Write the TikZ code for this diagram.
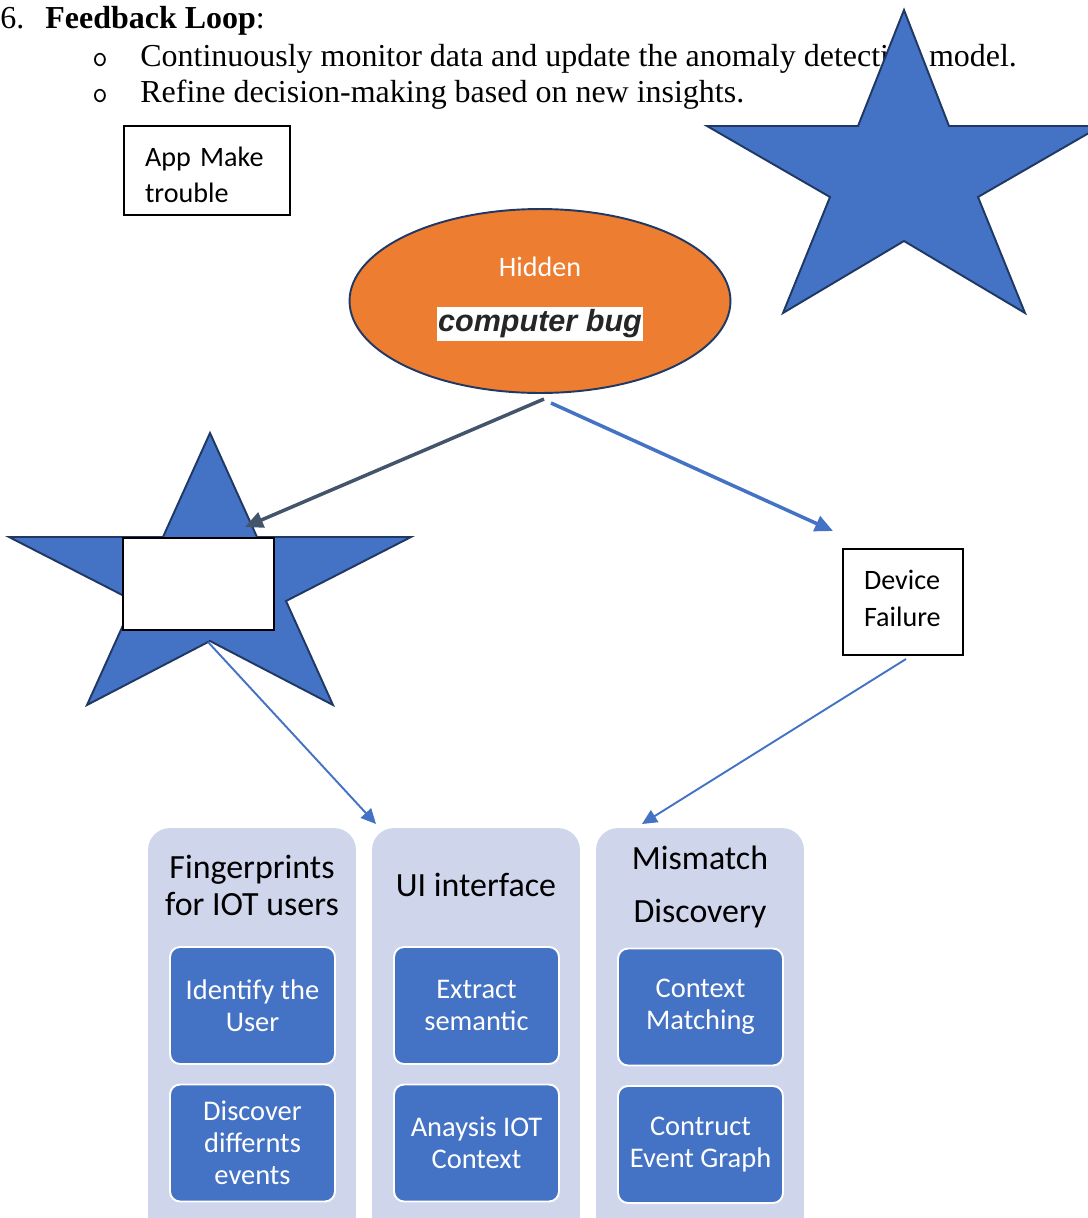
\documentclass[tikz,border=0pt]{standalone}
\usepackage{fontspec}
\setmainfont{Liberation Serif}
\newfontfamily\calfont{Carlito}
\newfontfamily\arlfont{Liberation Sans}
\usetikzlibrary{arrows.meta,shapes.geometric}
\definecolor{accblue}{HTML}{4472C4}
\definecolor{navy}{HTML}{203864}
\definecolor{orng}{HTML}{ED7D31}
\definecolor{slate}{HTML}{44546A}
\definecolor{lav}{HTML}{CFD5EA}
\definecolor{dark}{HTML}{262626}
\tikzset{
  doctext/.style={inner sep=0pt, anchor=base west, font=\fontsize{18.2pt}{21pt}\selectfont},
  bullet/.style={inner sep=0pt, anchor=base, font=\ttfamily\fontsize{17pt}{17pt}\selectfont},
  starshape/.style={fill=accblue, draw=navy, line width=1.1pt, line join=miter},
  plainbox/.style={draw=black, line width=0.7pt, fill=white, inner ysep=0pt, inner xsep=0.42cm,
     align=left, font=\calfont\fontsize{16pt}{21pt}\selectfont},
  colbg/.style={fill=lav, rounded corners=0.44cm, minimum width=4.16cm, minimum height=8.24cm, inner sep=0pt},
  colhead/.style={align=center, inner sep=0pt, font=\calfont\fontsize{19.3pt}{21pt}\selectfont},
  task/.style={fill=accblue, draw=white, line width=1.1pt, rounded corners=0.2cm,
     minimum width=3.3cm, minimum height=2.34cm, inner sep=0pt, align=center, text=white,
     font=\calfont\fontsize{16.2pt}{18.2pt}\selectfont},
  thickarrow/.style={line width=2pt, -{Triangle[length=0.36cm,width=0.32cm]}},
  thinarrow/.style={line width=1.1pt, accblue, -{Triangle[length=0.3cm,width=0.28cm]}},
}
\begin{document}
\begin{tikzpicture}[x=0.02cm,y=-0.02cm]
\useasboundingbox (0,0) rectangle (1088,1218);
\clip (0,0) rectangle (1088,1218);

% document text
\node[doctext] (num) at (0,28) {6.};
\node[doctext] (fb) at (45,28) {\textbf{Feedback Loop}:};
\node[bullet] (b1) at (100,66) {o};
\node[doctext] (l1) at (140,66) {Continuously monitor data and update the anomaly detection model.};
\node[bullet] (b2) at (100,102) {o};
\node[doctext] (l2) at (140,102) {Refine decision-making based on new insights.};

% big star
\draw[starshape] (904,10) -- (949,126) -- (1101,126) -- (978,197) -- (1025,313) -- (904,241)
  -- (783,313) -- (830,197) -- (707,126) -- (858,126) -- cycle;

% App Make trouble
\node[plainbox, minimum width=3.32cm, minimum height=1.78cm, text width=2.48cm] (app) at (207,170.5) {\rule{0pt}{16pt}App Make\\trouble};

% ellipse
\node[ellipse, fill=orng, draw=navy, line width=1.1pt, minimum width=7.62cm, minimum height=3.68cm, inner sep=0pt] (bug) at (540,301) {};
\node[text=white, inner sep=0pt, font=\calfont\fontsize{16pt}{16pt}\selectfont] (hid) at (540,267) {Hidden};
\node[fill=white, inner sep=0pt, minimum width=4.12cm, minimum height=0.68cm, text=dark,
  font=\arlfont\bfseries\itshape\fontsize{17.4pt}{17.4pt}\selectfont] (cbug) at (540,324) {computer bug};

% left star with blank box
\draw[starshape] (210,433) -- (257,537) -- (411,537) -- (286,601) -- (333,705) -- (210,641)
  -- (87,705) -- (134,601) -- (9,537) -- (163,537) -- cycle;
\node[draw=black, line width=0.7pt, fill=white, minimum width=3.02cm, minimum height=1.84cm, inner sep=0pt] (blank) at (198.5,584) {};

% Device Failure
\node[plainbox, minimum width=2.4cm, minimum height=2.12cm, text width=1.56cm] (dev) at (903,602) {Device\\Failure\rule[-4.5pt]{0pt}{4.5pt}};

% columns
\node[colbg] (c1) at (252,1034) {};
\node[colbg] (c2) at (476,1034) {};
\node[colbg] (c3) at (700,1034) {};
\node[colhead] (h1) at (252,885) {Fingerprints\\for IOT users};
\node[colhead] (h2) at (476,885) {UI interface};
\node[colhead, font=\calfont\fontsize{19.3pt}{30pt}\selectfont] (h3) at (700,887) {Mismatch\\Discovery};

\node[task] (t11) at (252.5,1005.5) {Identify the\\User};
\node[task] (t12) at (252.5,1143) {Discover\\differnts\\events};
\node[task] (t21) at (476.5,1005.5) {Extract\\semantic};
\node[task] (t22) at (476.5,1143) {Anaysis IOT\\Context};
\node[task] (t31) at (700.5,1007) {Context\\Matching};
\node[task] (t32) at (700.5,1144.5) {Contruct\\Event Graph};

% connectors
\coordinate (bugL) at (544,399);
\coordinate (bugR) at (551,403);
\coordinate (starIn) at (245,527);
\coordinate (devIn) at (833,531);
\coordinate (devOut) at (906,659);
\coordinate (starOut) at (208,642);
\coordinate (c2in) at (376,824);
\coordinate (c3in) at (642,824);
\draw[thickarrow, slate] (bugL) -- (starIn);
\draw[thickarrow, accblue] (bugR) -- (devIn);
\draw[thinarrow] (devOut) -- (c3in);
\draw[thinarrow] (starOut) -- (c2in);
\end{tikzpicture}
\end{document}
